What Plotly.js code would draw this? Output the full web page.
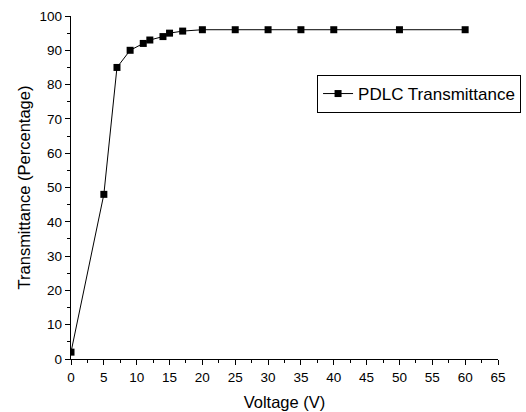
<!DOCTYPE html>
<html><head><meta charset="utf-8">
<script src="https://cdn.plot.ly/plotly-3.0.1.min.js"></script>
<style>body{margin:0;padding:0;background:#fff}</style>
</head><body>
<div id="chart" style="width:526px;height:412px"></div>
<script>
var voltage = [0, 5, 7, 9, 11, 12, 14, 15, 17, 20, 25, 30, 35, 40, 50, 60];
var transmittance = [2, 48, 85, 90, 92, 93, 94, 95, 95.6, 96, 96, 96, 96, 96, 96, 96];
var seriesName = 'PDLC Transmittance';
var xTickVals = [0,5,10,15,20,25,30,35,40,45,50,55,60,65];
var yTickVals = [0,10,20,30,40,50,60,70,80,90,100];

var trace = {
  x: voltage, y: transmittance, name: seriesName,
  type: 'scatter', mode: 'lines+markers',
  line: {color: '#000', width: 1},
  marker: {symbol: 'square', size: 7, color: '#000'},
  showlegend: true
};
var font = {family: 'Liberation Sans, Arial, sans-serif', color: '#000'};
var layout = {
  width: 526, height: 412,
  margin: {l: 71, r: 28, t: 16, b: 53, autoexpand: false},
  paper_bgcolor: '#fff', plot_bgcolor: '#fff',
  font: font,
  showlegend: true,
  legend: {x: 1.054, xanchor: 'right', y: 0.7726, yanchor: 'middle',
    bordercolor: '#000', borderwidth: 1, bgcolor: '#fff',
    font: {family: font.family, size: 17, color: '#000'},
    itemwidth: 30, tracegroupgap: 0},
  xaxis: {range: [0, 65], tickvals: xTickVals, ticks: 'outside', ticklen: 5, tickwidth: 1,
    tickcolor: '#000', showline: true, linecolor: '#000', linewidth: 1.3, mirror: false,
    showgrid: false, zeroline: false, tickfont: {size: 13.5}, automargin: false,
    minor: {dtick: 2.5, ticks: 'outside', ticklen: 3, tickcolor: '#000', tickwidth: 1, showgrid: false},
    title: {text: 'Voltage (V)', font: {size: 16.5}, standoff: 13}},
  yaxis: {range: [0, 100], tickvals: yTickVals, ticks: 'outside', ticklen: 5, tickwidth: 1,
    tickcolor: '#000', showline: true, linecolor: '#000', linewidth: 1.3, mirror: false,
    showgrid: false, zeroline: false, tickfont: {size: 13.5}, automargin: false,
    minor: {dtick: 5, ticks: 'outside', ticklen: 3, tickcolor: '#000', tickwidth: 1, showgrid: false},
    title: {text: 'Transmittance (Percentage)', font: {size: 16.5}, standoff: 4}}
};
Plotly.newPlot('chart', [trace], layout, {displayModeBar: false, staticPlot: true});
</script>
</body></html>
